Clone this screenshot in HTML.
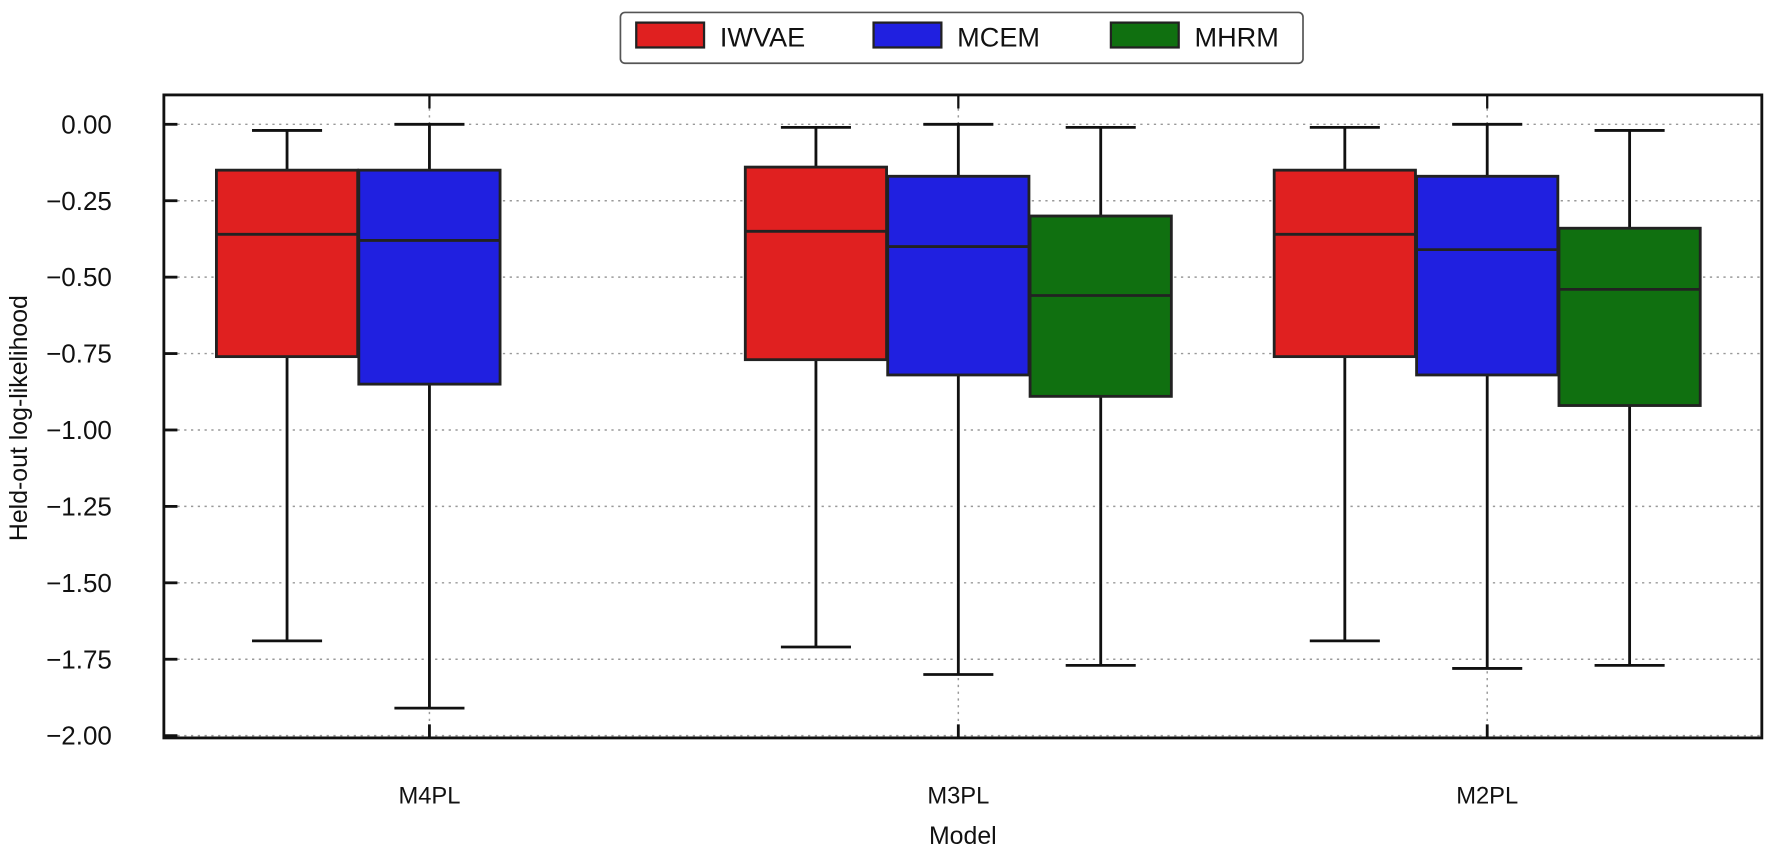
<!DOCTYPE html>
<html><head><meta charset="utf-8"><style>
body{margin:0;background:#fff;}
svg{display:block;font-family:"Liberation Sans",Arial,sans-serif;}
</style></head><body>
<svg id="chart" width="1772" height="849" viewBox="0 0 1568 751.3" preserveAspectRatio="none"></svg>
<script>
const categories=["M4PL","M3PL","M2PL"];
const seriesNames=["IWVAE","MCEM","MHRM"];
const seriesColors=["#e02020","#2020e0","#107010"];
// [whiskerTop, q3, median, q1, whiskerLow] per category; null = absent
const iwvae=[[-0.02,-0.15,-0.36,-0.76,-1.69],[-0.01,-0.14,-0.35,-0.77,-1.71],[-0.01,-0.15,-0.36,-0.76,-1.69]];
const mcem=[[0.00,-0.15,-0.38,-0.85,-1.91],[0.00,-0.17,-0.40,-0.82,-1.80],[0.00,-0.17,-0.41,-0.82,-1.78]];
const mhrm=[null,[-0.01,-0.30,-0.56,-0.89,-1.77],[-0.02,-0.34,-0.54,-0.92,-1.77]];
const yTicks=[0,-0.25,-0.5,-0.75,-1,-1.25,-1.5,-1.75,-2];
const yTickLabels=["0.00","\u22120.25","\u22120.50","\u22120.75","\u22121.00","\u22121.25","\u22121.50","\u22121.75","\u22122.00"];

const NS="http://www.w3.org/2000/svg";
const svg=document.getElementById('chart');
const L=145,R=1559,T=84,B=653;
const yScale=v=>110-v*270.5;
const xCat=i=>380+i*468;
const boxW=125,off=126,capW=62;
function mk(tag,attrs,parent){const e=document.createElementNS(NS,tag);for(const k in attrs)e.setAttribute(k,attrs[k]);(parent||svg).appendChild(e);return e;}

yTicks.forEach((v,i)=>{
  const g=mk('line',{x1:L,x2:R,y1:yScale(v),y2:yScale(v),stroke:'#999','stroke-width':1.3,'stroke-dasharray':'2 4'});
  
  
  const t=mk('line',{x1:L,x2:L+12,y1:yScale(v),y2:yScale(v),stroke:'#111','stroke-width':2.5});
  
  
  const lb=mk('text',{x:99,y:yScale(v)+8,'text-anchor':'end','font-size':23,fill:'#111'});
  lb.textContent=yTickLabels[i];
  
  
});
categories.forEach((c,i)=>{
  const g=mk('line',{x1:xCat(i),x2:xCat(i),y1:T,y2:B,stroke:'#999','stroke-width':1.3,'stroke-dasharray':'2 4'});
  
  
  const t1=mk('line',{x1:xCat(i),x2:xCat(i),y1:B,y2:B-12,stroke:'#111','stroke-width':2.5});
  
  
  const t2=mk('line',{x1:xCat(i),x2:xCat(i),y1:T,y2:T+12,stroke:'#111','stroke-width':2});
  
  
  const lb=mk('text',{x:xCat(i),y:711,'text-anchor':'middle','font-size':21,fill:'#111'});
  lb.textContent=c;
  
  
});

[iwvae,mcem,mhrm].forEach((ser,s)=>{
  ser.forEach((d,i)=>{
    if(!d)return;
    const cx=xCat(i)+(s-1)*off;
    const g=mk('g',{});
    
    
    mk('line',{x1:cx,x2:cx,y1:yScale(d[0]),y2:yScale(d[1]),stroke:'#111','stroke-width':2.5},g);
    mk('line',{x1:cx,x2:cx,y1:yScale(d[3]),y2:yScale(d[4]),stroke:'#111','stroke-width':2.5},g);
    mk('line',{x1:cx-capW/2,x2:cx+capW/2,y1:yScale(d[0]),y2:yScale(d[0]),stroke:'#111','stroke-width':2.5},g);
    mk('line',{x1:cx-capW/2,x2:cx+capW/2,y1:yScale(d[4]),y2:yScale(d[4]),stroke:'#111','stroke-width':2.5},g);
    mk('rect',{x:cx-boxW/2,y:yScale(d[1]),width:boxW,height:yScale(d[3])-yScale(d[1]),fill:seriesColors[s],stroke:'#222','stroke-width':2.5},g);
    mk('line',{x1:cx-boxW/2,x2:cx+boxW/2,y1:yScale(d[2]),y2:yScale(d[2]),stroke:'#222','stroke-width':2.5},g);
  });
});

const fr=mk('rect',{x:L,y:T,width:R-L,height:B-T,fill:'none',stroke:'#111','stroke-width':2.5});



const yt=mk('text',{x:0,y:0,'text-anchor':'middle','font-size':22,fill:'#111',transform:'translate(24,370) rotate(-90)'});
yt.textContent='Held-out log-likelihood';


const xt=mk('text',{x:852,y:747,'text-anchor':'middle','font-size':22,fill:'#111'});
xt.textContent='Model';



const lg=mk('g',{});


mk('rect',{x:549,y:11,width:604,height:45,rx:4,fill:'#fff',stroke:'#555','stroke-width':1.5},lg);
seriesNames.forEach((n,s)=>{
  const e=mk('g',{},lg);
  
  
  const x0=563+s*210;
  mk('rect',{x:x0,y:20,width:60,height:22,fill:seriesColors[s],stroke:'#222','stroke-width':2},e);
  const t=mk('text',{x:x0+74,y:41,'font-size':24,fill:'#111'},e);
  t.textContent=n;
});
</script>
</body></html>
